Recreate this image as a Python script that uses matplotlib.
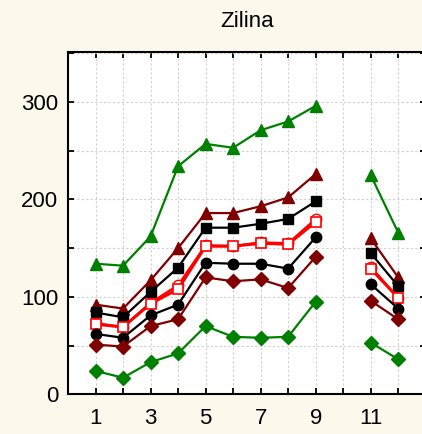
import numpy as np
import matplotlib
matplotlib.use("Agg")
import matplotlib.pyplot as plt

plt.rcParams['font.family'] = ['Liberation Sans', 'DejaVu Sans']

months = [1, 2, 3, 4, 5, 6, 7, 8, 9, 10, 11, 12]
nan = np.nan
green_top = [134, 132, 162, 234, 257, 253, 271, 280, 296, nan, 225, 166]
darkred_tri = [92, 88, 117, 150, 186, 186, 193, 202, 226, nan, 160, 120]
black_sq = [84, 79, 105, 130, 171, 171, 175, 180, 198, nan, 145, 111]
red_circ = [73, 69, 94, 112, 153, 152, 156, 155, 180, nan, 131, 99]
red_sq = [72, 69, 93, 108, 152, 152, 155, 154, 177, nan, 129, 99]
black_circ = [62, 58, 81, 92, 135, 134, 134, 129, 161, nan, 113, 88]
darkred_dia = [51, 49, 70, 77, 120, 116, 118, 109, 141, nan, 96, 77]
green_dia = [24, 17, 33, 42, 70, 59, 58, 59, 95, nan, 53, 36]

xticks_major = [1, 3, 5, 7, 9, 11]
yticks_major = [0, 100, 200, 300]

fig = plt.figure(figsize=(4.22, 4.34), dpi=100)
fig.patch.set_facecolor('#fdf8ec')
ax = fig.add_axes([68 / 422, 1 - 394.3 / 434, (425.7 - 68) / 422, (394.3 - 52.3) / 434])
ax.set_facecolor('white')

GREEN = '#008000'
DRED = '#800000'
ms = 7.5
lw = 1.6
ax.plot(months, green_top, color=GREEN, marker='^', ms=ms + 1, lw=lw, zorder=3)
ax.plot(months, darkred_tri, color=DRED, marker='^', ms=ms + 1, lw=lw, zorder=3)
ax.plot(months, black_sq, color='black', marker='s', ms=ms, lw=lw, zorder=3)
ax.plot(months, red_circ, color='red', marker='o', ms=ms, lw=lw, mfc='white', mec='red', zorder=3)
ax.plot(months, red_sq, color='red', marker='s', ms=ms, lw=lw + 0.6, mfc='white', mec='red', mew=1.2, zorder=3)
ax.plot(months, black_circ, color='black', marker='o', ms=ms, lw=lw, zorder=3)
ax.plot(months, darkred_dia, color=DRED, marker='D', ms=ms - 0.5, lw=lw, zorder=3)
ax.plot(months, green_dia, color=GREEN, marker='D', ms=ms - 0.5, lw=lw, zorder=3)

ax.set_xlim(0, 13)
ax.set_ylim(0, 351)
ax.set_xticks(xticks_major)
ax.set_xticks(months, minor=True)
ax.set_yticks(yticks_major)
ax.set_yticks([50, 150, 250, 350], minor=True)
ax.set_yticklabels([str(v) for v in yticks_major])
ax.set_xticklabels([str(v) for v in xticks_major])
ax.grid(True, which='both', color='#d0d0d0', ls=(0, (2, 2)), lw=0.8, zorder=0)
ax.tick_params(which='both', direction='in', top=True, right=True, length=4, width=1.3,
               labelsize=16)
ax.tick_params(axis='y', pad=7)
ax.tick_params(axis='x', pad=10)
for s in ax.spines.values():
    s.set_linewidth(1.5)

ax.set_title('Zilina', fontsize=16, pad=18)

fig.savefig('out.png', dpi=100, facecolor=fig.get_facecolor())
